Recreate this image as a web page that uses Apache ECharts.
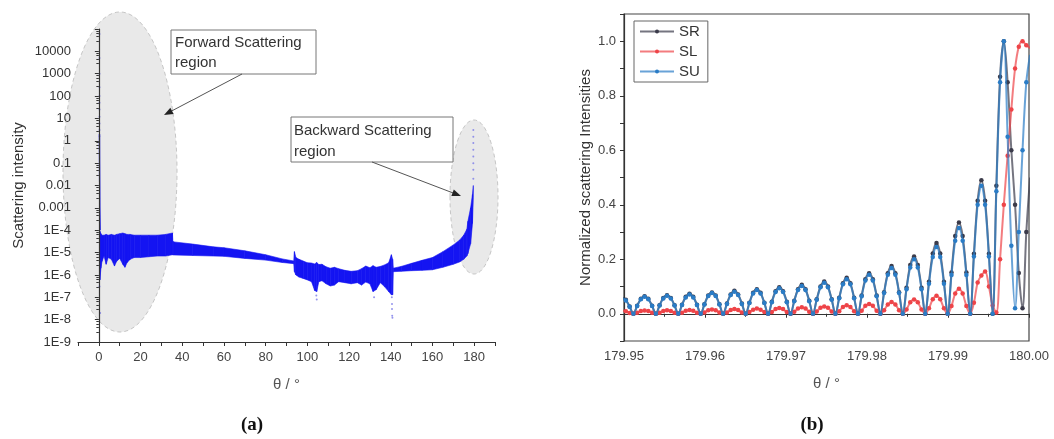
<!DOCTYPE html>
<html><head><meta charset="utf-8">
<script src="https://cdn.jsdelivr.net/npm/echarts@6/dist/echarts.min.js"></script>
<style>html,body{margin:0;padding:0;background:#fff}#c{width:1054px;height:439px}</style>
</head><body><div id="c"></div>
<script>
// ---------- (a) Scattering intensity vs theta ----------
var bandTheta = [0.4,0.5,1.0,1.5,2.5,3.5,4.5,6,7.5,8.5,10,11.5,12.5,13.5,15,17,20,24,28,32,35.3,
  35.5,36,45,55,60,70,80,88,93.5,
  93.8,94.5,96,98,100,102,103.5,104.5,105.5,107,109,111,113,115,118,121,124,126,128,130,131.5,133,135,137,139,140.3,140.9,
  141.2,145,150,155,160,165,170,173,175,176.5,177,178.3,179.2,179.6];
var bandUpper = [8e-5,9e-5,7e-5,6e-5,6e-5,6.5e-5,6e-5,6.5e-5,6e-5,6.5e-5,7e-5,7.5e-5,7e-5,6.5e-5,6.5e-5,6e-5,6e-5,6e-5,6e-5,6.5e-5,7.5e-5,
  3.2e-5,3e-5,2.4e-5,1.8e-5,1.65e-5,1.2e-5,8e-6,5.2e-6,4.2e-6,
  1.1e-5,6e-6,5e-6,4.2e-6,3.5e-6,3.4e-6,3.1e-6,3.6e-6,2.9e-6,3e-6,2.3e-6,2e-6,2.2e-6,1.9e-6,1.6e-6,1.45e-6,1.55e-6,1.9e-6,2.5e-6,2.1e-6,2.6e-6,2.2e-6,2.4e-6,2.8e-6,3.5e-6,8e-6,5e-6,
  2e-6,2.4e-6,3.3e-6,4.5e-6,6e-6,1.1e-5,2.2e-5,3.6e-5,6e-5,1.1e-4,2.5e-4,1e-3,4e-3,1e-2];
var bandLower = [1e-6,6e-7,2e-6,4e-6,7e-6,3e-6,6e-6,5e-6,2.5e-6,4e-6,5.5e-6,3e-6,2.2e-6,3.5e-6,5e-6,6e-6,6e-6,6.5e-6,7e-6,7e-6,8e-6,
  7.8e-6,7.8e-6,7.4e-6,7e-6,6.8e-6,5.5e-6,4.6e-6,3.6e-6,3.2e-6,
  1.4e-6,1e-6,8e-7,7e-7,6e-7,5e-7,2e-7,1.8e-7,5e-7,5.5e-7,4e-7,3.2e-7,3.5e-7,5e-7,4.5e-7,4e-7,4.5e-7,3.5e-7,4.8e-7,4e-7,1.8e-7,2.2e-7,4.5e-7,3e-7,1.8e-7,1.3e-7,1.3e-7,
  1.4e-6,1.45e-6,1.55e-6,1.6e-6,1.7e-6,2.2e-6,3e-6,3.8e-6,5e-6,7e-6,9e-6,2.5e-5,2e-4,3e-3];
var fwdSpikeTheta = [0.3,0.35,0.45,0.6];
var fwdSpikeVal = [2,0.1,1e-3,1e-4];
var sparseTheta = [0.3,0.3,0.3,0.3,0.3,0.3,0.3,0.3,0.3,0.3,0.3, 179.6,179.6,179.6,179.6,179.6,179.6,179.6,179.6,
  0.3,0.6,104.3,104.5,132,140.5,140.6,140.6,140.7,140.8];
var sparseVal = [6e4,5e3,1e3,250,100,50,25,12,6,3,1.6, 0.02,0.05,0.1,0.2,0.4,0.8,1.5,3,
  3e-7,2e-8,1.2e-7,8e-8,1e-7,1e-7,5e-8,3e-8,1.5e-8,1.2e-8];
var xTicksA = [0,20,40,60,80,100,120,140,160,180];

// ---------- (b) Normalized scattering intensities near 180 deg ----------
var thetaB = [179.94977,179.95023,179.95069,179.95116,179.95162,179.95208,179.95254,179.95300,179.95347,179.95393,
  179.95439,179.95485,179.95531,179.95578,179.95624,179.95670,179.95716,179.95762,179.95809,179.95855,
  179.95901,179.95947,179.95993,179.96040,179.96086,179.96132,179.96178,179.96224,179.96271,179.96317,
  179.96363,179.96409,179.96455,179.96502,179.96548,179.96594,179.96640,179.96686,179.96733,179.96779,
  179.96825,179.96871,179.96917,179.96964,179.97010,179.97056,179.97102,179.97148,179.97195,179.97241,
  179.97287,179.97333,179.97379,179.97426,179.97472,179.97518,179.97564,179.97610,179.97657,179.97703,
  179.97749,179.97795,179.97841,179.97888,179.97934,179.97980,179.98026,179.98072,179.98119,179.98165,
  179.98211,179.98257,179.98303,179.98350,179.98396,179.98442,179.98488,179.98534,179.98581,179.98627,
  179.98673,179.98719,179.98765,179.98812,179.98858,179.98904,179.98950,179.98996,179.99043,179.99089,
  179.99135,179.99181,179.99227,179.99274,179.99320,179.99366,179.99412,179.99458,179.99505,179.99551,
  179.99597,179.99643,179.99689,179.99736,179.99782,179.99828,179.99874,179.99920,179.99967,180.00013];
var srVal = [0.060,0.051,0.027,0,
  0.029,0.055,0.064,0.055,0.029,0,
  0.031,0.058,0.068,0.058,0.031,0,
  0.033,0.062,0.073,0.062,0.033,0,
  0.035,0.067,0.078,0.067,0.035,0,
  0.038,0.071,0.084,0.071,0.038,0,
  0.040,0.077,0.090,0.077,0.040,0,
  0.044,0.083,0.097,0.083,0.044,0,
  0.048,0.090,0.106,0.090,0.048,0,
  0.053,0.100,0.118,0.100,0.053,0,
  0.059,0.112,0.132,0.112,0.059,0,
  0.067,0.127,0.149,0.127,0.067,0,
  0.079,0.149,0.175,0.149,0.079,0,
  0.095,0.179,0.210,0.179,0.095,0,
  0.117,0.221,0.260,0.221,0.117,0,
  0.151,0.285,0.335,0.285,0.151,0,
  0.220,0.415,0.490,0.415,0.220,0,
  0.470,0.870,1.000,0.850,0.600,0.400,0.150,0.020,0.300,0.500];
var slVal = [0.011,0.009,0.003,0,
  0.004,0.010,0.012,0.010,0.004,0,
  0.004,0.010,0.013,0.010,0.004,0,
  0.004,0.011,0.014,0.011,0.004,0,
  0.005,0.013,0.016,0.013,0.005,0,
  0.005,0.014,0.017,0.014,0.005,0,
  0.006,0.015,0.019,0.015,0.006,0,
  0.006,0.017,0.021,0.017,0.006,0,
  0.007,0.019,0.024,0.019,0.007,0,
  0.008,0.022,0.027,0.022,0.008,0,
  0.009,0.025,0.031,0.025,0.009,0,
  0.011,0.029,0.036,0.029,0.011,0,
  0.013,0.034,0.043,0.034,0.013,0,
  0.016,0.042,0.052,0.042,0.016,0,
  0.020,0.053,0.066,0.053,0.020,0,
  0.028,0.074,0.092,0.074,0.028,0,
  0.040,0.115,0.140,0.155,0.100,0.030,0.005,0.200,0.400,0.580,0.750,0.900,0.980,1.000,0.985,0.975];
var suVal = [0.058,0.049,0.026,0,
  0.028,0.053,0.062,0.053,0.028,0,
  0.030,0.056,0.066,0.056,0.030,0,
  0.032,0.060,0.071,0.060,0.032,0,
  0.034,0.065,0.076,0.065,0.034,0,
  0.036,0.069,0.081,0.069,0.036,0,
  0.039,0.074,0.087,0.074,0.039,0,
  0.042,0.080,0.094,0.080,0.042,0,
  0.046,0.087,0.102,0.087,0.046,0,
  0.051,0.097,0.114,0.097,0.051,0,
  0.057,0.108,0.127,0.108,0.057,0,
  0.064,0.122,0.143,0.122,0.064,0,
  0.076,0.143,0.168,0.143,0.076,0,
  0.090,0.170,0.200,0.170,0.090,0,
  0.110,0.208,0.245,0.208,0.110,0,
  0.142,0.268,0.315,0.268,0.142,0,
  0.210,0.400,0.470,0.400,0.210,0,
  0.450,0.850,1.000,0.650,0.250,0.020,0.300,0.600,0.850,0.950];
var seriesNamesB = ['SR','SL','SU'];

// ---------- rendering ----------
var BLUE = '#1414f2';
var FONT = '"Liberation Sans", Arial, sans-serif';
function pairs(xs, ys){ return xs.map(function(x,i){ return [x, ys[i]]; }); }
function logLabel(v){
  var e = Math.round(Math.log10(v));
  if (e > 4) return '';
  if (e >= 0) return String(Math.pow(10, e));
  if (e >= -3) return Math.pow(10, e).toFixed(-e);
  return '1E' + e;
}
function arrow(x1,y1,x2,y2){
  var dx=x2-x1, dy=y2-y1, L=Math.sqrt(dx*dx+dy*dy), ux=dx/L, uy=dy/L, px=-uy, py=ux, h=9, w=3.5;
  return [
    {type:'line', z:100, shape:{x1:x1,y1:y1,x2:x2-ux*h*0.6,y2:y2-uy*h*0.6}, style:{stroke:'#555', lineWidth:1}},
    {type:'polygon', z:100, shape:{points:[[x2,y2],[x2-ux*h+px*w,y2-uy*h+py*w],[x2-ux*h-px*w,y2-uy*h-py*w]]}, style:{fill:'#222'}}
  ];
}
var axisLineStyle = {color:'#333', width:1.2};
var chart = echarts.init(document.getElementById('c'), null, {renderer:'canvas'});
var graphics = [
  {type:'ellipse', z:-5, shape:{cx:120, cy:172, rx:57, ry:160}, style:{fill:'#e9e9e9', stroke:'#c6c6c6', lineWidth:1, lineDash:[4,3]}},
  {type:'ellipse', z:-5, shape:{cx:474, cy:197, rx:24, ry:77}, style:{fill:'#e9e9e9', stroke:'#c6c6c6', lineWidth:1, lineDash:[4,3]}},
  {type:'rect', z:100, shape:{x:171, y:30, width:145, height:44}, style:{fill:'#fff', stroke:'#777', lineWidth:1}},
  {type:'text', z:101, x:175, y:33, style:{text:'Forward Scattering\nregion', font:'15px ' + FONT, fill:'#333', lineHeight:20}},
  {type:'rect', z:100, shape:{x:291, y:117, width:162, height:45}, style:{fill:'#fff', stroke:'#777', lineWidth:1}},
  {type:'text', z:101, x:294, y:120, style:{text:'Backward Scattering\nregion', font:'15px ' + FONT, fill:'#333', lineHeight:21}},
  {type:'text', z:101, x:252, y:425, style:{text:'(a)', font:'bold 19px "Liberation Serif", "DejaVu Serif", serif', fill:'#111', align:'center', verticalAlign:'middle'}},
  {type:'text', z:101, x:812, y:425, style:{text:'(b)', font:'bold 19px "Liberation Serif", "DejaVu Serif", serif', fill:'#111', align:'center', verticalAlign:'middle'}}
].concat(arrow(242,74,164,115)).concat(arrow(372,162,461,196));

var colorsB = {SR:'#3b3b4a', SL:'#ee4448', SU:'#2a7cc6'};
var valsB = {SR:srVal, SL:slVal, SU:suVal};
var seriesB = seriesNamesB.map(function(n, k){
  return {
    name:n, type:'line', xAxisIndex:1, yAxisIndex:1, z:5+k,
    data: pairs(thetaB, valsB[n]),
    smooth:0.35, symbol:'circle', symbolSize:4.5, showSymbol:true,
    itemStyle:{color:colorsB[n]},
    lineStyle:{color:colorsB[n], width:2, opacity:0.7},
    emphasis:{disabled:true}, silent:true
  };
});

chart.setOption({
  animation:false,
  backgroundColor:'#fff',
  textStyle:{fontFamily:FONT},
  graphic: graphics,
  legend:{
    data:seriesNamesB, orient:'vertical', left:634, top:21,
    itemWidth:34, itemHeight:5, itemGap:5,
    textStyle:{fontSize:15, color:'#333', fontFamily:FONT},
    borderColor:'#666', borderWidth:1, padding:[3,8,3,5], backgroundColor:'#fff'
  },
  grid:[
    {left:78, top:29, width:417, height:313},
    {left:624, top:14, width:405, height:327, show:true, borderColor:'#444', borderWidth:1.2, backgroundColor:'transparent'}
  ],
  xAxis:[
    {type:'value', gridIndex:0, min:-10, max:190, interval:10, z:4,
     name:'θ / °', nameLocation:'middle', nameGap:35, nameTextStyle:{fontSize:15, color:'#555', fontFamily:FONT},
     axisLine:{lineStyle:axisLineStyle}, axisTick:{length:4, lineStyle:{color:'#333'}},
     axisLabel:{fontSize:13, color:'#444', margin:9, formatter:function(v){ return xTicksA.indexOf(Math.round(v))>=0 ? String(Math.round(v)) : ''; }},
     splitLine:{show:false}},
    {type:'value', gridIndex:1, min:179.95, max:180.0, interval:0.01, z:4,
     name:'θ / °', nameLocation:'middle', nameGap:35, nameTextStyle:{fontSize:15, color:'#555', fontFamily:FONT},
     axisLine:{lineStyle:axisLineStyle}, axisTick:{length:4, lineStyle:{color:'#333'}},
     minorTick:{show:true, splitNumber:2, length:3, lineStyle:{color:'#333'}},
     axisLabel:{fontSize:13, color:'#444', margin:9, formatter:function(v){ return v.toFixed(2); }},
     splitLine:{show:false}}
  ],
  yAxis:[
    {type:'log', gridIndex:0, logBase:10, min:1e-9, max:1e5, interval:1, z:4,
     name:'Scattering intensity', nameLocation:'middle', nameGap:52, nameTextStyle:{fontSize:15, color:'#333', fontFamily:FONT},
     axisLine:{show:true, lineStyle:axisLineStyle}, axisTick:{show:true, length:4, lineStyle:{color:'#333'}},
     minorTick:{show:true, splitNumber:5, length:2.5, lineStyle:{color:'#333'}},
     axisLabel:{fontSize:13, color:'#333', margin:7, showMinLabel:true, showMaxLabel:true, formatter:logLabel},
     splitLine:{show:false}, minorSplitLine:{show:false}},
    {type:'value', gridIndex:1, min:-0.1, max:1.1, interval:0.1, z:4,
     name:'Normalized scattering Intensities', nameLocation:'middle', nameGap:31, nameTextStyle:{fontSize:15, color:'#333', fontFamily:FONT},
     axisLine:{show:true, lineStyle:axisLineStyle}, axisTick:{show:true, length:4, lineStyle:{color:'#333'}},
     axisLabel:{fontSize:13, color:'#444', margin:8, formatter:function(v){ var r=Math.round(v*10); return (r>=0 && r<=10 && r%2===0) ? (r/10).toFixed(1) : ''; }},
     splitLine:{show:false}}
  ],
  series:[
    {type:'custom', xAxisIndex:0, yAxisIndex:0, z:3, silent:true,
     data: bandTheta.map(function(t,i){ return [t, bandLower[i], bandUpper[i]]; }),
     encode:{x:0, y:[1,2]},
     renderItem:function(params, api){
       var i = params.dataIndex;
       if (i >= bandTheta.length-1) return {type:'group', children:[]};
       var a = api.coord([bandTheta[i], bandUpper[i]]), b = api.coord([bandTheta[i+1], bandUpper[i+1]]),
           c = api.coord([bandTheta[i+1], bandLower[i+1]]), d = api.coord([bandTheta[i], bandLower[i]]);
       return {type:'polygon', shape:{points:[a,b,c,d]}, style:{fill:BLUE, stroke:BLUE, lineWidth:0.6}};
     }},
    {type:'line', xAxisIndex:0, yAxisIndex:0, z:3, silent:true, data:pairs(fwdSpikeTheta, fwdSpikeVal),
     showSymbol:false, lineStyle:{color:BLUE, width:1.4}},
    {type:'scatter', xAxisIndex:0, yAxisIndex:0, z:3, silent:true, data:pairs(sparseTheta, sparseVal),
     symbolSize:2, itemStyle:{color:'#7a7ae8'}}
  ].concat(seriesB)
});
</script></body></html>
